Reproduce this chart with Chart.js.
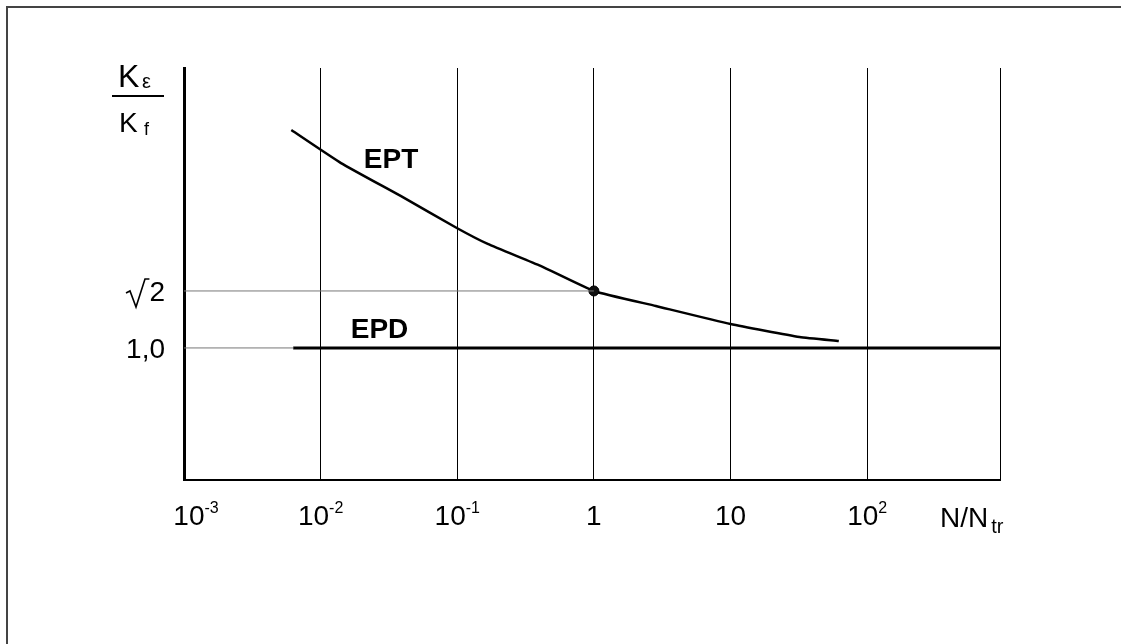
<!DOCTYPE html>
<html>
<head>
<meta charset="utf-8">
<script src="https://cdn.jsdelivr.net/npm/chart.js@4.4.1/dist/chart.umd.min.js"></script>
<style>
  html, body { margin: 0; padding: 0; background: #fff; }
  #wrap { position: relative; width: 1121px; height: 644px; }
</style>
</head>
<body>
<div id="wrap"><canvas id="chart"></canvas></div>
<script>
// Eixo x (log): posições das marcas e rótulos (base, expoente)
const xTickValues = [1e-3, 1e-2, 1e-1, 1, 10, 100];
const xTickLabels = [["10", "-3"], ["10", "-2"], ["10", "-1"], ["1", ""], ["10", ""], ["10", "2"]];
const xMin = 1e-3;
const xMax = 938;

// Eixo y: marcas e rótulos
const yTickValues = [1.0, Math.SQRT2];
const yTickLabels = ["1,0", "2"];
const yMin = 0.04;
const yMax = 3.035;

// Curva EPT (N/Ntr, Kε/Kf)
const eptX = [0.0061, 0.0141, 0.0385, 0.1, 0.167, 0.407, 1, 2.84, 10, 32, 62];
const eptY = [2.584, 2.344, 2.105, 1.87, 1.756, 1.596, Math.SQRT2, 1.305, 1.174, 1.08, 1.051];
const markedPoint = 1; // ponto destacado em N/Ntr = 1

// Reta EPD
const epdX = [0.0063, 938];
const epdY = [1.0, 1.0];

// Linhas de referência horizontais
const refSqrt2X = [1e-3, 1];
const refSqrt2Y = [Math.SQRT2, Math.SQRT2];
const refOneX = [1e-3, 0.0063];
const refOneY = [1.0, 1.0];

const toPoints = (xs, ys) => xs.map((x, i) => ({ x, y: ys[i] }));

const FONT = "'Liberation Sans', Arial, sans-serif";

// Desenha rótulos, título do eixo e borda
const labelsPlugin = {
  id: "labels",
  afterDraw(chart) {
    const ctx = chart.ctx;
    const xs = chart.scales.x;
    const ys = chart.scales.y;
    const area = chart.chartArea;
    ctx.save();
    ctx.fillStyle = "#000";
    ctx.textBaseline = "alphabetic";
    ctx.textAlign = "left";

    // rótulos do eixo x com expoente
    const baseY = area.bottom + 45;
    xTickValues.forEach((v, i) => {
      const [base, exp] = xTickLabels[i];
      ctx.font = `28px ${FONT}`;
      const wb = ctx.measureText(base).width;
      ctx.font = `16px ${FONT}`;
      const we = exp ? ctx.measureText(exp).width : 0;
      let left = xs.getPixelForValue(v) - (wb + we) / 2;
      if (i === 0) left += 12;
      ctx.font = `28px ${FONT}`;
      ctx.fillText(base, left, baseY);
      if (exp) {
        ctx.font = `16px ${FONT}`;
        ctx.fillText(exp, left + wb, baseY - 12);
      }
    });

    // N/Ntr
    ctx.font = `28px ${FONT}`;
    ctx.fillText("N/N", 940, baseY + 2);
    const wn = ctx.measureText("N/N").width;
    ctx.font = `20px ${FONT}`;
    ctx.fillText("tr", 940 + wn + 3, baseY + 8);

    // rótulos do eixo y
    ctx.textAlign = "right";
    ctx.font = `28px ${FONT}`;
    yTickValues.forEach((v, i) => {
      ctx.fillText(yTickLabels[i], 165, ys.getPixelForValue(v) + 10);
    });
    // sinal de raiz antes do 2
    const yr = ys.getPixelForValue(Math.SQRT2);
    const w2 = ctx.measureText("2").width;
    ctx.strokeStyle = "#000";
    ctx.lineWidth = 1.6;
    ctx.beginPath();
    ctx.moveTo(126, yr + 2);
    ctx.lineTo(130, yr);
    ctx.lineTo(136, yr + 16);
    ctx.lineTo(145, yr - 12);
    ctx.lineTo(165 - w2, yr - 12);
    ctx.stroke();

    // título do eixo y: Kε / Kf
    ctx.textAlign = "left";
    ctx.font = `32px ${FONT}`;
    ctx.fillText("K", 118, 87);
    ctx.font = `20px ${FONT}`;
    ctx.fillText("\u03B5", 142, 88);
    ctx.fillRect(112, 95, 52, 2);
    ctx.font = `28px ${FONT}`;
    ctx.fillText("K", 119, 132);
    ctx.font = `18px ${FONT}`;
    ctx.fillText("f", 144, 135);

    // nomes das curvas
    ctx.font = `bold 28px ${FONT}`;
    ctx.fillText("EPT", xs.getPixelForValue(0.0207), ys.getPixelForValue(2.308));
    ctx.fillText("EPD", xs.getPixelForValue(0.0166), ys.getPixelForValue(1.073));

    // borda superior e esquerda
    ctx.fillStyle = "#444";
    ctx.fillRect(6, 6, chart.width - 6, 2);
    ctx.fillRect(6, 6, 2, chart.height - 6);
    ctx.restore();
  },
};

new Chart(document.getElementById("chart"), {
  type: "line",
  data: {
    datasets: [
      {
        label: "ref √2",
        data: toPoints(refSqrt2X, refSqrt2Y),
        borderColor: "#777",
        borderWidth: 1,
        pointRadius: 0,
      },
      {
        label: "ref 1,0",
        data: toPoints(refOneX, refOneY),
        borderColor: "#777",
        borderWidth: 1,
        pointRadius: 0,
      },
      {
        label: "EPD",
        data: toPoints(epdX, epdY),
        borderColor: "#000",
        borderWidth: 3,
        pointRadius: 0,
      },
      {
        label: "EPT",
        data: toPoints(eptX, eptY),
        borderColor: "#000",
        borderWidth: 2.5,
        tension: 0.15,
        pointRadius: eptX.map((x) => (x === markedPoint ? 5 : 0)),
        pointBackgroundColor: "#111",
        pointBorderColor: "#000",
        pointBorderWidth: 1,
      },
    ],
  },
  options: {
    responsive: true,
    maintainAspectRatio: false,
    animation: false,
    events: [],
    layout: { padding: { left: 176, right: 121, top: 68, bottom: 164 } },
    plugins: {
      legend: { display: false },
      tooltip: { enabled: false },
    },
    scales: {
      x: {
        type: "logarithmic",
        min: xMin,
        max: xMax,
        afterBuildTicks: (scale) => {
          scale.ticks = xTickValues.concat([xMax]).map((v) => ({ value: v }));
        },
        ticks: { display: false },
        grid: { color: "#000", lineWidth: 1, drawTicks: false },
        border: { display: true, color: "#000", width: 2 },
      },
      y: {
        type: "linear",
        min: yMin,
        max: yMax,
        ticks: { display: false },
        grid: { display: false },
        border: { display: true, color: "#000", width: 3 },
      },
    },
  },
  plugins: [labelsPlugin],
});
</script>
</body>
</html>
